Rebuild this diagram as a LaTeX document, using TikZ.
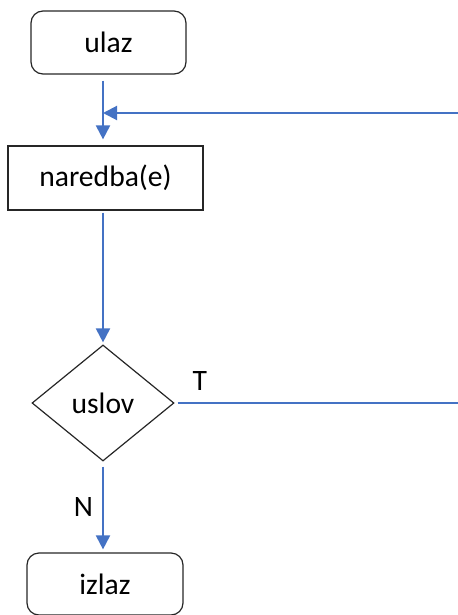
\documentclass[tikz,border=0pt]{standalone}
\usepackage{fontspec}
\setmainfont{Carlito}
\usetikzlibrary{shapes.geometric,arrows.meta}
\definecolor{tokblue}{RGB}{68,114,196}

\begin{document}
\begin{tikzpicture}[x=0.5pt,y=-0.5pt, font=\fontsize{14.8}{17}\selectfont]
      \useasboundingbox (0,0) rectangle (458,615);

      \begin{scope}[every node/.style={draw=black!85, line width=0.6pt, inner sep=0pt}]
        \node (ulaz)    [rounded corners=6pt, minimum width=77.5pt, minimum height=31.5pt] at (108.5,42.5) {ulaz};
        \node (naredba) [minimum width=97.5pt, minimum height=32pt] at (105.5,178) {naredba(e)};
        \node (uslov)   [diamond, aspect=1.22, minimum width=71pt, minimum height=58pt] at (103,403) {uslov};
        \node (izlaz)   [rounded corners=6pt, minimum width=78pt, minimum height=31pt] at (105,584) {izlaz};
      \end{scope}

      \coordinate (nazad) at (458,113);
      \coordinate (kraj)  at (458,404);

      \begin{scope}[every node/.style={inner sep=0pt}, >={Triangle[length=7pt,width=7pt]}]
        \begin{scope}[every edge/.style={draw=tokblue, line width=1pt}]
          \path (ulaz.south -| uslov.north)    edge[->, shorten <=3pt, shorten >=3pt] (naredba.north -| uslov.north);
          \path (nazad)                        edge[->] (nazad -| uslov.north);
          \path (naredba.south -| uslov.north) edge[->, shorten <=1pt, shorten >=1pt] (uslov.north);
          \path (uslov.south) edge[->, shorten <=2.5pt, shorten >=1.5pt] node[anchor=east, xshift=-4.5pt] {N} (izlaz.north -| uslov.south);
          \path (uslov.east)  edge[shorten <=1.5pt] node[pos=0, anchor=south west, xshift=8.5pt, yshift=6pt] {T} (kraj |- uslov.east);
        \end{scope}
      \end{scope}

    \end{tikzpicture}
\end{document}
